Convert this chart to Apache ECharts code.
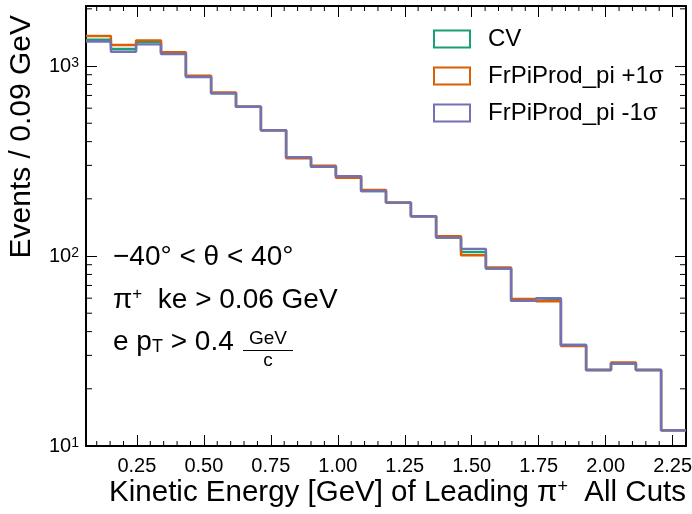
<!DOCTYPE html>
<html lang="en">
<head>
  <meta charset="UTF-8">
  <title>Leading pi+ kinetic energy</title>
  <script src="https://cdn.jsdelivr.net/npm/echarts@6/dist/echarts.min.js"></script>
</head>
<body style="margin:0">
  <div id="chart" style="width: 692px; height: 514px;"></div>
<script>
  // bin edges in GeV (24 bins)
  const binEdges = [0.060, 0.153, 0.247, 0.340, 0.433, 0.527, 0.620, 0.713, 0.807, 0.900, 0.993, 1.087,
    1.180, 1.273, 1.367, 1.460, 1.553, 1.647, 1.740, 1.833, 1.927, 2.020, 2.113, 2.207, 2.300];
  const cvCounts = [1375, 1229, 1338, 1168, 882, 718, 611, 459, 331, 295, 263, 220,
    191, 162, 125, 105, 86, 58.2, 58.9, 34.0, 25.1, 27.2, 25.1, 12.1];
  const plusCounts = [1440, 1290, 1365, 1181, 889, 725, 611, 459, 327, 299, 258, 223,
    191, 162, 127, 101, 87, 59.4, 57.8, 33.6, 25.1, 27.5, 25.1, 12.1];
  const minusCounts = [1346, 1189, 1300, 1156, 875, 718, 611, 459, 331, 295, 263, 220,
    191, 162, 125, 109, 86, 58.2, 59.9, 34.0, 25.1, 27.2, 25.1, 12.1];
  const seriesNames = ['CV', 'FrPiProd_pi +1σ', 'FrPiProd_pi -1σ'];
  const seriesColors = ['#1b9e77', '#d95f02', '#7570b3'];
  const xTicks = [0.25, 0.50, 0.75, 1.00, 1.25, 1.50, 1.75, 2.00, 2.25];
  const xMin = 0.06, xMax = 2.30, yMin = 10, yMax = 2070;

  const FONT = 'Liberation Sans';

  // minor ticks: every 0.05 on x, 2..9 per decade on y
  const xMinor = [];
  for (let k = 2; k <= 46; k++) {
    if (k % 5 !== 0) xMinor.push(+(k * 0.05).toFixed(2));
  }
  const yMinor = [];
  [10, 100, 1000].forEach(d => {
    for (let m = 2; m <= 9; m++) if (d * m < yMax) yMinor.push(d * m);
  });

  function stepData(counts) {
    const pts = counts.map((c, i) => [binEdges[i], c]);
    pts.push([binEdges[binEdges.length - 1], counts[counts.length - 1]]);
    return pts;
  }

  function tickSeries(data, dx, dy) {
    return {
      type: 'custom',
      silent: true,
      z: 5,
      clip: false,
      data: data,
      renderItem: function (params, api) {
        const p = api.coord([api.value(0), api.value(1)]);
        return {
          type: 'line',
          shape: { x1: p[0], y1: p[1], x2: p[0] + dx, y2: p[1] + dy },
          style: { stroke: '#000', lineWidth: 1 }
        };
      }
    };
  }

  const myChart = echarts.init(document.getElementById('chart'));

  const histSeries = seriesNames.map((name, i) => ({
    name: name,
    type: 'line',
    step: 'end',
    showSymbol: false,
    data: stepData([cvCounts, plusCounts, minusCounts][i]),
    lineStyle: { color: seriesColors[i], width: 2.4 },
    itemStyle: { color: seriesColors[i] },
    z: 2 + i
  }));

  const majorTick = { show: true, inside: true, length: 11, lineStyle: { color: '#000', width: 1 } };
  const frameLine = { show: true, onZero: false, lineStyle: { color: '#000', width: 2 } };

  const option = {
    animation: false,
    textStyle: { fontFamily: FONT },
    grid: { left: 86, right: 6, top: 6, bottom: 68, outerBoundsMode: 'none' },
    legend: {
      orient: 'vertical',
      left: 433,
      top: 27,
      padding: 0,
      itemWidth: 36,
      itemHeight: 17,
      itemGap: 13,
      icon: 'rect',
      textStyle: { fontFamily: FONT, fontSize: 24, color: '#000', padding: [0, 0, 0, 13] },
      data: seriesNames.map((n, i) => ({
        name: n,
        icon: 'rect',
        itemStyle: { color: '#fff', borderColor: seriesColors[i], borderWidth: 2 }
      }))
    },
    xAxis: [
      {
        type: 'value', min: xMin, max: xMax, position: 'bottom',
        axisLine: frameLine,
        axisTick: Object.assign({ customValues: xTicks }, majorTick),
        axisLabel: {
          customValues: xTicks, formatter: v => v.toFixed(2),
          fontFamily: FONT, fontSize: 20, color: '#000', margin: 10
        },
        splitLine: { show: false }
      },
      {
        type: 'value', min: xMin, max: xMax, position: 'top',
        axisLine: frameLine,
        axisTick: Object.assign({ customValues: xTicks }, majorTick),
        axisLabel: { show: false },
        splitLine: { show: false }
      }
    ],
    yAxis: [
      {
        type: 'log', logBase: 10, min: yMin, max: yMax, position: 'left',
        axisLine: frameLine,
        axisTick: majorTick,
        axisLabel: {
          fontFamily: FONT, fontSize: 20, color: '#000', margin: 7,
          formatter: function (v) {
            const e = Math.round(Math.log10(v));
            if (Math.abs(v - Math.pow(10, e)) > 1e-6 * v) return '';
            return '{n|10}{s|' + e + '}';
          },
          rich: {
            n: { fontFamily: FONT, fontSize: 20, color: '#000' },
            s: { fontFamily: FONT, fontSize: 14, color: '#000', verticalAlign: 'top' }
          }
        },
        splitLine: { show: false }
      },
      {
        type: 'log', logBase: 10, min: yMin, max: yMax, position: 'right',
        axisLine: frameLine,
        axisTick: majorTick,
        axisLabel: { show: false },
        splitLine: { show: false }
      }
    ],
    series: histSeries.concat([
      tickSeries(xMinor.map(v => [v, yMin]), 0, -5),
      tickSeries(xMinor.map(v => [v, yMax]), 0, 5),
      tickSeries(yMinor.map(v => [xMin, v]), 6, 0),
      tickSeries(yMinor.map(v => [xMax, v]), -6, 0)
    ]),
    graphic: [
      {
        type: 'text', x: 22, y: 15, rotation: Math.PI / 2,
        style: { text: 'Events / 0.09 GeV', fontFamily: FONT, fontSize: 30, fill: '#000', align: 'right', verticalAlign: 'middle' }
      },
      {
        type: 'text', x: 686, y: 493,
        style: {
          text: '{n|Kinetic Energy [GeV] of Leading π}{s|+}{n|  All Cuts}',
          align: 'right', verticalAlign: 'middle',
          rich: {
            n: { fontFamily: FONT, fontSize: 29.5, fill: '#000' },
            s: { fontFamily: FONT, fontSize: 18, fill: '#000', verticalAlign: 'top' }
          }
        }
      },
      {
        type: 'text', x: 113, y: 257,
        style: { text: '−40° < θ < 40°', fontFamily: FONT, fontSize: 28, fill: '#000', verticalAlign: 'middle' }
      },
      {
        type: 'text', x: 113, y: 300,
        style: {
          text: '{n|π}{s|+}{n|  ke > 0.06 GeV}', verticalAlign: 'middle',
          rich: {
            n: { fontFamily: FONT, fontSize: 28, fill: '#000' },
            s: { fontFamily: FONT, fontSize: 17, fill: '#000', verticalAlign: 'top' }
          }
        }
      },
      {
        type: 'text', x: 113, y: 342,
        style: {
          text: '{n|e p}{b|T}{n| > 0.4}', verticalAlign: 'middle',
          rich: {
            n: { fontFamily: FONT, fontSize: 28, fill: '#000' },
            b: { fontFamily: FONT, fontSize: 18, fill: '#000', verticalAlign: 'bottom' }
          }
        }
      },
      {
        type: 'text', x: 268, y: 339,
        style: { text: 'GeV', fontFamily: FONT, fontSize: 19, fill: '#000', align: 'center', verticalAlign: 'middle' }
      },
      {
        type: 'line', shape: { x1: 243, y1: 350.5, x2: 293, y2: 350.5 },
        style: { stroke: '#000', lineWidth: 1.2 }
      },
      {
        type: 'text', x: 268, y: 361,
        style: { text: 'c', fontFamily: FONT, fontSize: 19, fill: '#000', align: 'center', verticalAlign: 'middle' }
      }
    ]
  };

  myChart.setOption(option);
</script>
</body>
</html>
